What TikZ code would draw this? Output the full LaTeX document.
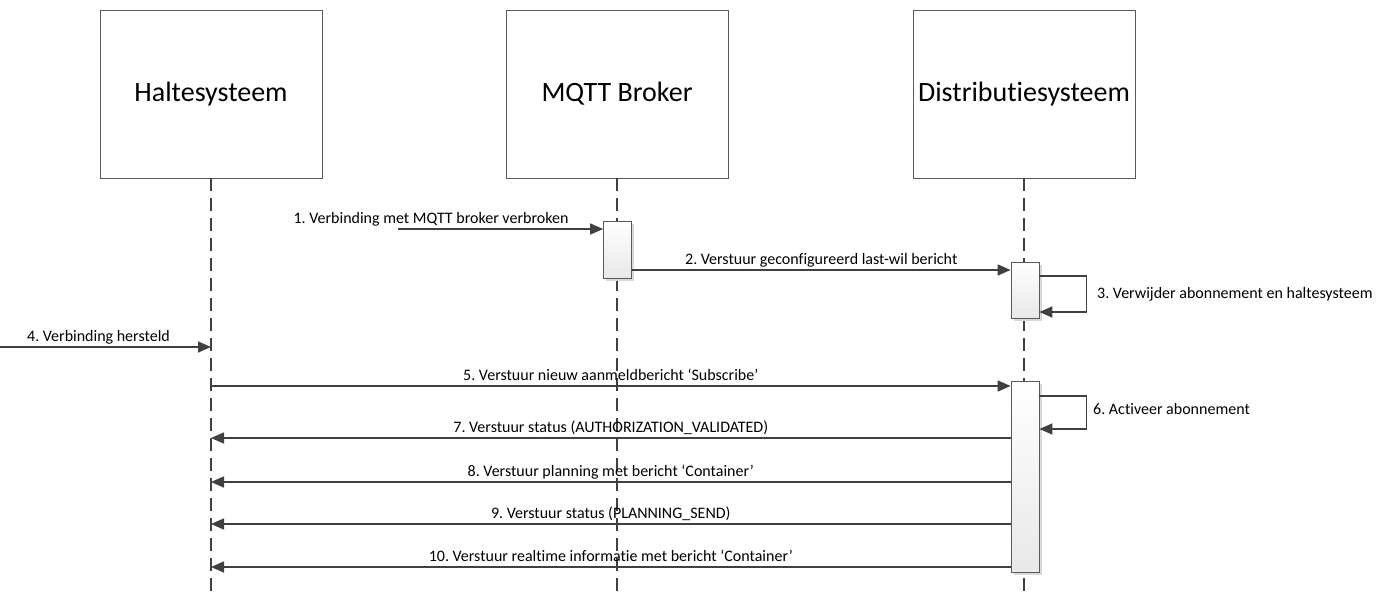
\documentclass[tikz,border=0pt]{standalone}
\usepackage{fontspec}
\setmainfont{Carlito}[Ligatures=NoCommon]
\frenchspacing
\usetikzlibrary{arrows.meta,shadows}
\definecolor{lijn}{HTML}{404040}
\definecolor{rand}{HTML}{595959}
\definecolor{schaduw}{HTML}{D9D9D9}
\tikzset{
    deelnemer/.style={draw=rand, line width=0.8pt, minimum width=222pt, minimum height=168pt,
        inner sep=0pt, font=\fontsize{28}{32}\selectfont},
    levenslijn/.style={draw=lijn, line width=1.3pt, dash pattern=on 13pt off 7pt},
    activatie/.style={draw=rand, line width=0.8pt, minimum width=28pt, inner sep=0pt,
        top color=white, bottom color=black!9,
        drop shadow={shadow xshift=2.5pt, shadow yshift=-2.5pt, fill=schaduw, opacity=1}},
    bericht/.style={draw=lijn, line width=1.6pt, -{Triangle[length=13pt,width=11pt]}},
    berichttekst/.style={inner sep=0pt, anchor=base, font=\fontsize{16}{19}\selectfont, text=black},
    boven/.style={midway, yshift=6pt},
}
\begin{document}
\begin{tikzpicture}[x=1pt, y=-1pt]
    \useasboundingbox (0,0) rectangle (1386,597);

    % deelnemers
    \node[deelnemer] (hs) at (211,94) {Haltesysteem};
    \node[deelnemer] (mb) at (617,94) {MQTT Broker};
    \node[deelnemer] (ds) at (1024,94) {Distributiesysteem};

    \draw[levenslijn] (hs.south) -- (hs.south |- 0,597);
    \draw[levenslijn] (mb.south) -- (mb.south |- 0,597);
    \draw[levenslijn] (ds.south) -- (ds.south |- 0,597);

    % activaties
    \node[activatie, minimum height=57pt] (act1) at (617.5,249.5) {};
    \node[activatie, minimum height=56pt] (act2) at (1025,290) {};
    \node[activatie, minimum height=191pt] (act3) at (1025,476.5) {};

    % hoogtes van de berichten
    \coordinate (start1) at (398,229);
    \coordinate (z2) at (0,270);
    \coordinate (z3a) at (0,276);
    \coordinate (z3b) at (0,312);
    \coordinate (start4) at (0,347);
    \coordinate (z5) at (0,386);
    \coordinate (z6a) at (0,396);
    \coordinate (z6b) at (0,429);
    \coordinate (z7) at (0,438);
    \coordinate (z8) at (0,482);
    \coordinate (z9) at (0,524);
    \coordinate (z10) at (0,567);

    \draw[bericht] (start1) -- (act1.west |- start1);
    \node[berichttekst] (t1) at (431,223) {1. Verbinding met MQTT broker verbroken};

    \draw[bericht] (act1.east |- z2) -- (act2.west |- z2)
        node[berichttekst, boven] (t2) {2. Verstuur geconfigureerd last-wil bericht};

    \draw[bericht] (act2.east |- z3a) -- ++(47,0) |- (act2.east |- z3b);
    \node[berichttekst, anchor=base west] (t3) at (1097,298) {3. Verwijder abonnement en haltesysteem};

    \draw[bericht] (start4) -- (hs.south |- start4)
        node[berichttekst, boven, xshift=-7pt] (t4) {4. Verbinding hersteld};

    \draw[bericht] (hs.south |- z5) -- (act3.west |- z5)
        node[berichttekst, boven] (t5) {5. Verstuur nieuw aanmeldbericht ‘Subscribe’};

    \draw[bericht] (act3.east |- z6a) -- ++(47,0) |- (act3.east |- z6b);
    \node[berichttekst, anchor=base west] (t6) at (1093,414) {6. Activeer abonnement};

    \draw[bericht] (act3.west |- z7) -- (hs.south |- z7)
        node[berichttekst, boven] (t7) {7. Verstuur status (AUTHORIZATION\_VALIDATED)};

    \draw[bericht] (act3.west |- z8) -- (hs.south |- z8)
        node[berichttekst, boven] (t8) {8. Verstuur planning met bericht ‘Container’};

    \draw[bericht] (act3.west |- z9) -- (hs.south |- z9)
        node[berichttekst, boven] (t9) {9. Verstuur status (PLANNING\_SEND)};

    \draw[bericht] (act3.west |- z10) -- (hs.south |- z10)
        node[berichttekst, boven] (t10) {10. Verstuur realtime informatie met bericht ‘Container’};
\end{tikzpicture}
\end{document}
